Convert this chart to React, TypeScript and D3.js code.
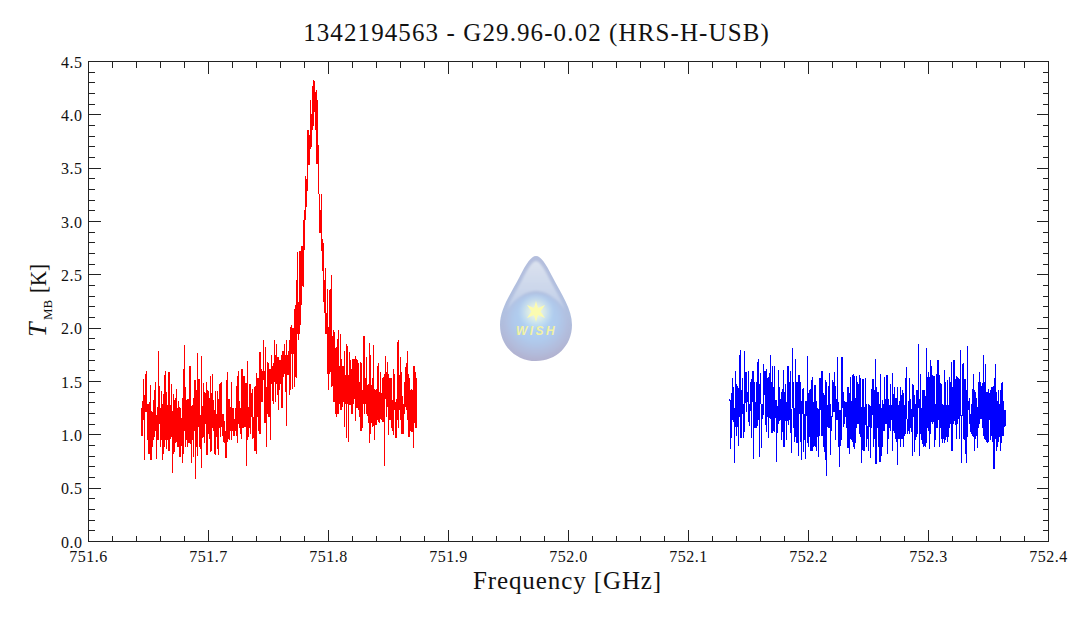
import * as d3 from "d3";

// T_MB per pixel-wide frequency bin (top and bottom of each bin)
const redHigh = [
  1.25,1.32,1.52,1.37,1.57,1.60,1.29,1.29,1.31,1.47,1.22,1.21,1.33,1.42,1.50,1.19,1.26,1.79,1.46,1.25,
  1.41,1.29,1.38,1.56,1.60,1.40,1.28,1.59,1.59,1.28,1.48,1.22,1.38,1.33,1.35,1.43,1.25,1.32,1.26,1.25,
  1.16,1.35,1.62,1.84,1.45,1.33,1.34,1.34,1.65,1.65,1.27,1.28,1.35,1.51,1.51,1.42,1.77,1.52,1.52,1.19,
  1.74,1.27,1.49,1.40,1.39,1.50,1.42,1.41,1.35,1.55,1.39,1.57,1.33,1.23,1.41,1.20,1.41,1.34,1.48,1.49,
  1.50,1.20,1.20,1.13,1.04,1.51,1.59,1.34,1.34,1.26,1.50,1.25,1.25,1.15,1.25,1.46,1.55,1.60,1.32,1.25,
  1.62,1.62,1.55,1.55,1.49,1.49,1.69,1.26,1.48,1.48,1.39,1.43,1.17,1.45,1.46,1.58,1.53,1.53,1.78,1.78,
  1.62,1.60,1.89,1.60,1.82,1.45,1.68,1.67,1.62,1.62,1.75,1.65,1.67,1.89,1.75,1.85,1.73,1.73,1.70,1.70,
  1.75,1.79,1.79,1.85,1.75,1.89,1.75,1.79,1.89,
  2.01,2.03,2.00,2.00,2.18,2.22,2.45,2.71,2.25,2.72,2.72,2.77,2.77,3.01,3.11,3.43,3.40,3.86,3.86,3.81,
  4.14,4.01,4.27,4.33,4.32,4.21,4.23,4.14,3.72,3.26,3.11,3.26,2.84,2.80,2.45,2.56,2.14,2.37,2.01,2.36,
  2.37,2.50,1.93,1.98,1.96,1.81,1.82,1.90,1.98,1.65,1.95,1.71,1.65,1.65,1.79,1.56,1.85,1.83,1.56,1.78,
  1.70,1.62,1.71,1.71,1.71,1.74,1.71,1.70,1.67,1.50,1.68,1.67,1.42,1.93,1.93,1.53,1.73,1.47,1.48,1.86,
  1.75,1.47,1.53,1.84,1.43,1.42,1.43,1.65,1.67,1.40,1.59,1.39,1.53,1.54,1.57,1.74,1.59,1.68,1.57,1.53,
  1.53,1.53,1.33,1.62,1.57,1.31,1.34,1.87,1.89,1.56,1.73,1.59,1.36,1.29,1.50,1.64,1.67,1.79,1.57,1.53,
  1.42,1.43,1.42,1.65,1.65,1.59,1.53,
];
const redLow = [
  0.99,0.99,1.14,0.76,1.21,1.21,0.95,0.82,0.82,0.76,0.76,0.89,0.95,0.98,1.04,0.77,0.95,0.95,1.10,0.89,
  0.95,0.76,0.82,0.89,0.95,0.87,0.95,0.85,0.85,0.96,0.98,0.64,0.82,0.84,0.92,0.93,0.89,0.89,0.79,0.79,
  0.90,0.74,0.82,1.04,0.89,0.95,0.89,0.92,0.92,0.91,0.74,0.95,0.79,1.04,0.59,0.89,0.80,1.07,0.89,0.87,
  0.69,0.97,0.98,0.92,1.10,0.81,0.81,1.01,0.96,0.84,0.85,1.06,1.04,0.82,0.81,0.98,0.87,0.81,1.06,0.98,
  1.07,0.99,0.93,0.92,0.78,0.78,0.93,0.96,0.95,1.04,0.95,1.04,0.99,0.99,1.04,0.99,0.92,1.10,1.06,1.01,
  0.96,1.06,1.06,1.07,1.07,0.71,0.95,0.98,1.06,1.01,1.17,0.96,0.97,0.85,0.85,0.82,1.17,1.04,1.01,1.01,
  1.31,1.31,1.51,1.11,1.11,0.89,1.20,1.17,1.17,0.95,1.48,1.32,1.29,1.50,1.31,1.48,1.37,1.23,1.42,1.48,
  1.25,1.25,1.54,1.57,1.40,1.08,1.56,1.56,1.37,
  1.42,1.76,1.43,1.76,1.45,1.54,1.53,1.95,1.89,1.95,2.03,2.22,2.40,2.39,2.73,3.01,3.14,3.29,3.53,3.53,
  3.68,3.70,3.86,3.90,4.03,3.86,3.54,3.54,3.26,2.89,2.89,2.72,2.54,2.25,2.14,1.95,1.95,1.57,1.42,1.57,
  1.59,1.45,1.46,1.31,1.31,1.20,1.17,1.20,1.20,1.29,1.23,1.23,1.26,1.31,1.07,1.29,0.97,1.29,0.93,1.28,
  1.28,1.20,1.20,1.29,1.34,1.13,1.25,1.25,1.23,1.17,1.04,1.04,1.06,1.29,1.20,1.29,1.20,1.18,1.11,0.92,
  1.01,1.11,1.07,1.08,0.95,1.09,1.09,1.14,1.12,1.11,1.15,1.14,1.12,1.12,0.71,1.34,1.17,1.26,1.00,1.14,
  1.14,1.06,1.04,1.00,1.23,0.97,0.97,1.14,1.06,1.23,1.14,1.01,1.01,1.01,1.20,1.26,1.23,1.14,0.98,0.98,
  1.04,1.03,1.03,0.88,1.11,1.06,1.06,
];
const blueHigh = [
  1.34,1.33,1.39,1.53,1.45,1.25,1.60,1.48,1.46,1.44,1.75,1.80,1.42,1.53,1.29,1.79,1.59,1.59,1.40,1.60,
  1.29,1.50,1.52,1.60,1.60,1.50,1.31,1.50,1.68,1.71,1.48,1.58,1.29,1.29,1.66,1.60,1.60,1.62,1.53,1.54,
  1.58,1.75,1.50,1.65,1.45,1.65,1.33,1.33,1.27,1.61,1.45,1.34,1.40,1.43,1.61,1.40,1.48,1.31,1.65,1.65,
  1.50,1.60,1.24,1.81,1.50,1.25,1.71,1.50,1.50,1.56,1.56,1.50,1.32,1.43,1.44,1.20,1.32,1.32,1.74,1.39,
  1.42,1.43,1.51,1.54,1.31,1.47,1.47,1.32,1.25,1.24,1.53,1.53,1.60,1.60,1.39,1.37,1.51,1.50,1.28,1.46,
  1.58,1.29,1.18,1.51,1.50,1.59,1.46,1.34,1.73,1.31,1.23,1.23,1.73,1.73,1.40,1.32,1.31,1.31,1.45,1.45,
  1.39,1.54,1.32,1.56,1.57,1.55,1.35,1.55,1.50,1.48,1.56,1.53,1.26,1.52,1.52,1.26,1.53,1.29,1.08,1.29,
  1.28,1.27,
  1.43,1.52,1.52,1.42,1.71,1.45,1.40,1.40,1.29,1.57,1.25,1.33,1.29,1.54,1.34,1.56,1.56,1.34,1.28,1.48,
  1.28,1.58,1.38,1.45,1.35,1.35,1.45,1.28,1.32,1.45,1.37,1.42,1.39,1.28,1.53,1.64,1.15,1.32,1.53,1.34,
  1.24,1.48,1.47,1.37,1.29,1.42,1.42,1.85,1.34,1.57,1.25,1.42,1.42,1.42,1.36,1.81,1.54,1.59,1.54,1.70,
  1.65,1.56,1.55,1.55,1.29,1.57,1.70,1.70,1.56,1.49,1.48,1.29,1.28,1.61,1.50,1.28,1.51,1.28,1.54,1.50,
  1.68,1.45,1.70,1.70,1.52,1.55,1.54,1.53,1.52,1.80,1.19,1.66,1.67,1.52,1.52,1.42,1.83,1.32,1.35,1.20,
  1.29,1.43,1.57,1.42,1.40,1.35,1.26,1.50,1.59,1.50,1.46,1.49,1.75,1.50,1.66,1.40,1.40,1.43,1.39,1.42,
  1.45,1.45,1.46,1.53,1.66,1.40,1.32,1.42,1.29,1.42,1.49,1.50,1.32,1.23,1.23,
];
const blueLow = [
  1.32,0.87,0.97,1.14,1.12,0.74,1.07,0.99,1.07,0.90,1.17,0.97,0.97,1.20,0.97,1.03,1.30,1.21,1.31,1.12,
  1.08,1.22,0.97,1.31,0.77,1.06,1.06,1.06,1.08,1.14,0.79,1.29,0.88,1.15,1.19,1.37,1.09,1.03,1.17,0.97,
  1.16,1.15,1.02,1.02,1.04,1.03,1.16,0.75,1.02,1.10,1.13,1.14,0.95,1.03,0.89,0.89,1.13,0.95,1.13,1.09,
  1.14,1.02,0.83,1.25,1.06,0.93,0.98,0.92,0.92,0.80,1.20,0.93,0.76,1.20,0.84,0.95,0.77,1.18,0.92,0.89,
  0.98,0.85,0.85,0.85,0.89,0.90,0.89,0.85,0.98,0.79,0.99,1.23,0.99,0.99,0.89,0.84,0.76,0.61,1.07,1.06,
  1.06,0.81,1.04,1.17,1.21,1.21,0.95,1.14,1.14,0.89,0.70,0.90,0.95,1.25,1.07,1.10,1.17,1.06,0.88,0.88,
  0.82,0.96,0.95,0.93,0.89,0.87,0.92,1.06,1.10,1.10,1.01,0.98,0.74,0.86,0.85,0.85,1.09,0.89,0.96,0.85,
  1.07,0.78,
  1.06,1.19,0.89,0.96,0.73,0.73,1.06,0.89,0.75,0.75,0.80,0.89,1.04,1.04,1.10,1.10,0.82,0.96,1.06,1.04,
  1.14,0.85,1.04,1.02,0.96,0.93,0.72,0.96,0.96,0.89,0.96,0.96,0.89,0.99,1.01,1.15,1.01,1.04,1.01,1.06,
  1.03,0.80,1.17,0.84,0.95,0.98,1.01,1.25,0.80,1.01,0.95,0.91,0.89,0.90,0.89,0.92,1.06,1.04,0.87,1.01,
  1.12,1.10,1.12,0.89,0.95,1.06,1.06,1.14,0.89,1.06,0.96,0.92,0.96,0.92,0.95,0.98,0.93,0.98,1.06,1.10,
  0.85,0.85,1.10,1.13,1.09,0.96,1.10,1.15,0.96,1.18,0.74,1.18,0.96,0.95,0.82,0.74,0.98,1.23,1.10,1.03,
  1.01,0.99,0.98,0.85,0.96,0.99,0.88,1.06,1.10,1.15,1.15,1.06,0.99,0.96,0.95,0.93,0.92,0.93,1.14,0.95,
  0.99,0.93,0.68,0.68,0.96,0.85,0.89,0.93,0.98,0.85,0.92,0.99,0.99,1.07,1.08,
];

const redStart = 751.644583; // centre of first bin
const blueStart = 752.133750;
const binWidth = 1 / 1200; // GHz per bin

const xTicks = [751.6, 751.7, 751.8, 751.9, 752.0, 752.1, 752.2, 752.3, 752.4];
const yTicks = [0, 0.5, 1, 1.5, 2, 2.5, 3, 3.5, 4, 4.5];

const width = 1072;
const height = 618;
const marginLeft = 88.5;
const marginRight = 1048.5;
const marginTop = 61.5;
const marginBottom = 541.5;

const serif = "'Liberation Serif', serif";
const inkColor = "#222";
const textColor = "#111";

const x = d3.scaleLinear().domain([751.6, 752.4]).range([marginLeft, marginRight]);
const y = d3.scaleLinear().domain([0, 4.5]).range([marginBottom, marginTop]);

function spectrumPath(start: number, high: number[], low: number[]) {
  const p = d3.path();
  high.forEach((h, i) => {
    const f = x(start + i * binWidth);
    p.moveTo(f, y(low[i]));
    p.lineTo(f, y(h));
  });
  return p.toString();
}

function tickPath() {
  const p = d3.path();
  x.ticks(40).forEach((t, i) => {
    const len = i % 5 === 0 ? 12 : 6;
    p.moveTo(x(t), marginBottom);
    p.lineTo(x(t), marginBottom - len);
    p.moveTo(x(t), marginTop);
    p.lineTo(x(t), marginTop + len);
  });
  y.ticks(45).forEach((t, i) => {
    const len = i % 5 === 0 ? 12 : 6;
    p.moveTo(marginLeft, y(t));
    p.lineTo(marginLeft + len, y(t));
    p.moveTo(marginRight, y(t));
    p.lineTo(marginRight - len, y(t));
  });
  return p.toString();
}

const dropPath = "M536 256 C541 256 546 264 552 276 C562 295 572 309 572 325 C572 346 556 361 536 361 C516 361 500 346 500 325 C500 309 510 295 520 276 C526 264 531 256 536 256 Z";

function WishLogo() {
  return (
    <g>
      <defs>
        <linearGradient id="dropBody" x1="0" y1="0" x2="0" y2="1">
          <stop offset="0" stopColor="#b4bedd" />
          <stop offset="0.55" stopColor="#b0c0e0" />
          <stop offset="1" stopColor="#b2b2d0" />
        </linearGradient>
        <radialGradient id="dropGlow" cx="0.5" cy="0.4" r="0.6">
          <stop offset="0" stopColor="#aed6f8" />
          <stop offset="0.55" stopColor="#b0caec" />
          <stop offset="0.85" stopColor="#b2bcdc" />
          <stop offset="1" stopColor="#b2b4d2" />
        </radialGradient>
        <linearGradient id="dropShine" x1="0" y1="0" x2="0" y2="1">
          <stop offset="0" stopColor="#dbe2ee" />
          <stop offset="0.6" stopColor="#c8d4ea" />
          <stop offset="1" stopColor="#b8c8e6" />
        </linearGradient>
        <radialGradient id="starGlow">
          <stop offset="0" stopColor="#fdfde0" stopOpacity="1" />
          <stop offset="0.5" stopColor="#eef6e0" stopOpacity="0.6" />
          <stop offset="1" stopColor="#d8eef8" stopOpacity="0" />
        </radialGradient>
        <filter id="soft">
          <feGaussianBlur stdDeviation="0.9" />
        </filter>
      </defs>
      <path d={dropPath} fill="url(#dropBody)" />
      <g filter="url(#soft)">
        <path d="M536 261 C540 261 545 270 550 280 C558 295 566 307 567 318 C560 300 548 291 536 291 C524 291 512 300 505 318 C506 307 514 295 522 280 C527 270 532 261 536 261 Z" fill="url(#dropShine)" />
        <ellipse cx={536} cy={326} rx={33} ry={33} fill="url(#dropGlow)" />
        <circle cx={536} cy={312} r={18} fill="url(#starGlow)" />
      </g>
      <path d="M536 301 L538 308 L545 305 L540.5 311.5 L545 318 L538 315 L536 322 L534 315 L527 318 L531.5 311.5 L527 305 L534 308 Z" fill="#fbfbb0" />
      <text x={536.5} y={335} textAnchor="middle" fontFamily="'Liberation Sans', sans-serif" fontStyle="italic" fontWeight="bold" fontSize={12} letterSpacing={2.4} fill="#f2f2a4">WISH</text>
    </g>
  );
}

export default function App() {
  return (
    <svg width={width} height={height} style={{ position: "absolute", left: 0, top: 0, background: "#fff" }}>
      <path d={spectrumPath(redStart, redHigh, redLow)} fill="none" stroke="#ff0000" strokeWidth={1} shapeRendering="crispEdges" />
      <path d={spectrumPath(blueStart, blueHigh, blueLow)} fill="none" stroke="#0000ff" strokeWidth={1} shapeRendering="crispEdges" />
      <WishLogo />
      <rect x={marginLeft} y={marginTop} width={marginRight - marginLeft} height={marginBottom - marginTop} fill="none" stroke={inkColor} strokeWidth={1} shapeRendering="crispEdges" />
      <path d={tickPath()} fill="none" stroke={inkColor} strokeWidth={1} shapeRendering="crispEdges" />
      <g fontFamily={serif} fontSize={16} fill={textColor} letterSpacing={0.5}>
        {xTicks.map((t) => (
          <text key={t} x={x(t)} y={562} textAnchor="middle">{t.toFixed(1)}</text>
        ))}
        {yTicks.map((t) => (
          <text key={t} x={82.5} y={y(t) + 6} textAnchor="end">{t.toFixed(1)}</text>
        ))}
      </g>
      <text x={536.5} y={41} textAnchor="middle" fontFamily={serif} fontSize={25} letterSpacing={1.1} fill={textColor}>1342194563 - G29.96-0.02 (HRS-H-USB)</text>
      <text x={567.5} y={589} textAnchor="middle" fontFamily={serif} fontSize={25} letterSpacing={0.9} fill={textColor}>Frequency [GHz]</text>
      <g fontFamily={serif} fill={textColor}>
        <text transform="translate(46,337) rotate(-90)" fontStyle="italic" fontSize={26}>T</text>
        <text transform="translate(52,320) rotate(-90)" fontSize={13}>MB</text>
        <text transform="translate(46,293) rotate(-90)" fontSize={24} textLength={29} lengthAdjust="spacingAndGlyphs">[K]</text>
      </g>
    </svg>
  );
}
